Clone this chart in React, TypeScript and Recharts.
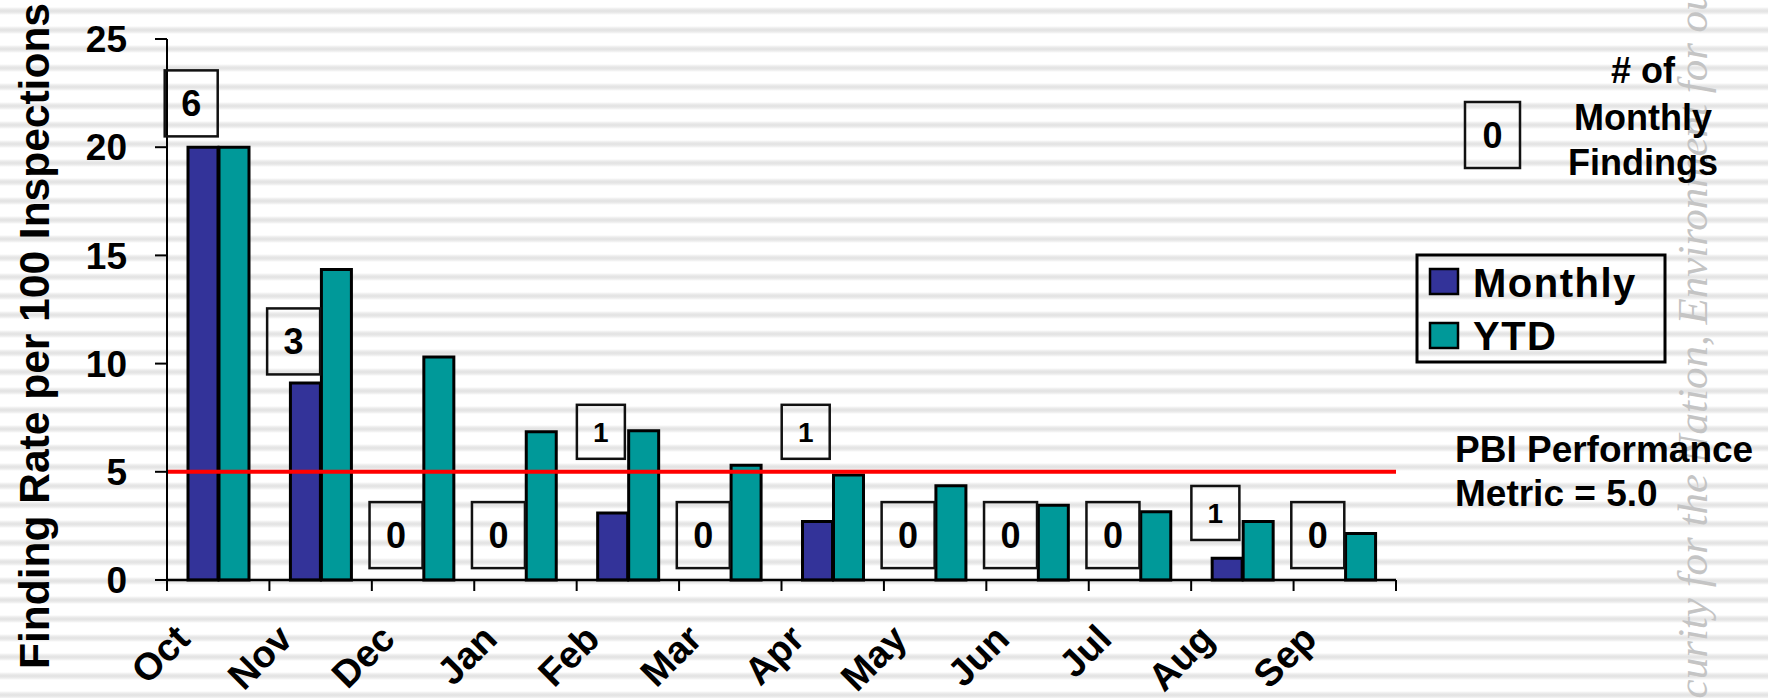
import React from 'react';
import { ComposedChart, Bar, Line, XAxis, YAxis, ReferenceLine } from 'recharts';

const months = ['Oct', 'Nov', 'Dec', 'Jan', 'Feb', 'Mar', 'Apr', 'May', 'Jun', 'Jul', 'Aug', 'Sep'];
const monthlyRate = [20, 9.1, 0, 0, 3.1, 0, 2.7, 0, 0, 0, 1.0, 0];
const ytdRate = [20, 14.35, 10.3, 6.85, 6.9, 5.3, 4.85, 4.35, 3.45, 3.15, 2.7, 2.15];
const monthlyFindings = [6, 3, 0, 0, 1, 0, 1, 0, 0, 0, 1, 0];
// lower edge of each findings box, in chart units (hand placed in the original)
const findingsBoxBase = [20.5, 9.5, 0.55, 0.55, 5.6, 0.55, 5.6, 0.55, 0.55, 0.55, 1.85, 0.55];
const yTicks = [0, 5, 10, 15, 20, 25];
const metricValue = 5;

const W = 1768;
const H = 698;
const PLOT_LEFT = 167;
const PLOT_RIGHT = 1396;
const PLOT_TOP = 39;
const PLOT_BOTTOM = 580;
const Y_AXIS_W = 60;
const X_AXIS_H = 60;
const BAND = (PLOT_RIGHT - PLOT_LEFT) / months.length;

const FONT = 'Arial, "Liberation Sans", Helvetica, sans-serif';
const MONTHLY_COLOR = '#333399';
const YTD_COLOR = '#009999';

const data = months.map((m, i) => ({
  month: m,
  monthly: monthlyRate[i],
  ytd: ytdRate[i],
  findings: monthlyFindings[i],
  boxBase: findingsBoxBase[i],
}));

// month labels sit on the category boundaries, like the original sheet
function MonthTick(props: any) {
  const { x, y, payload, index } = props;
  const left = x - BAND / 2;
  const tx = left + 25;
  const ty = y + 61;
  return (
    <g>
      <line x1={left} y1={y} x2={left} y2={y + 11} stroke="#000" strokeWidth={2} />
      {index === months.length - 1 && (
        <line x1={x + BAND / 2} y1={y} x2={x + BAND / 2} y2={y + 11} stroke="#000" strokeWidth={2} />
      )}
      <text
        x={tx}
        y={ty}
        transform={`rotate(-45 ${tx} ${ty})`}
        textAnchor="end"
        fontSize={38}
        fontWeight="bold"
        fontFamily={FONT}
        fill="#000"
      >
        {payload.value}
      </text>
    </g>
  );
}

function FindingsBox(props: any) {
  const { cx, cy, index } = props;
  if (cx == null || cy == null) return <g key={`box-${index}`} />;
  const n = monthlyFindings[index];
  const small = n === 1;
  const w = small ? 48 : 53;
  const h = small ? 54 : 66;
  const mid = cx - 27;
  return (
    <g key={`box-${index}`}>
      <rect x={mid - w / 2} y={cy - h} width={w} height={h} fill="none" stroke="#111" strokeWidth={2.5} />
      <text
        x={mid}
        y={cy - h / 2}
        dy="0.36em"
        textAnchor="middle"
        fontSize={small ? 28 : 36}
        fontWeight="bold"
        fontFamily={FONT}
        fill="#000"
      >
        {n}
      </text>
    </g>
  );
}

export default function App() {
  return (
    <div
      style={{
        position: 'absolute',
        left: 0,
        top: 0,
        width: W,
        height: H,
        overflow: 'hidden',
        fontFamily: FONT,
        background:
          'repeating-linear-gradient(to bottom, #ffffff 0px, #ffffff 7px, #ececec 9px, #e2e2e2 11px, #ececec 13px, #ffffff 15px, #ffffff 19px)',
      }}
    >
      <svg width={W} height={H} style={{ position: 'absolute', left: 0, top: 0 }}>
        <text
          transform="translate(1707 739) rotate(-90)"
          fontSize={43}
          fontStyle="italic"
          fontFamily='"Liberation Serif", "DejaVu Serif", serif'
          fill="#c4c4c4"
        >
          Security for the Nation, Environment for our Future
        </text>
      </svg>

      <div style={{ position: 'absolute', left: 0, top: 0 }}>
        <ComposedChart
          width={W}
          height={H}
          data={data}
          margin={{
            top: PLOT_TOP,
            right: W - PLOT_RIGHT,
            bottom: H - PLOT_BOTTOM - X_AXIS_H,
            left: PLOT_LEFT - Y_AXIS_W,
          }}
          barCategoryGap={21}
          barGap={1}
        >
          <XAxis
            dataKey="month"
            interval={0}
            height={X_AXIS_H}
            tickSize={0}
            tickMargin={0}
            tickLine={false}
            axisLine={{ stroke: '#000', strokeWidth: 2.5 }}
            tick={<MonthTick />}
          />
          <YAxis
            type="number"
            domain={[0, 25]}
            ticks={yTicks}
            interval={0}
            width={Y_AXIS_W}
            tickSize={12}
            tickMargin={28}
            axisLine={{ stroke: '#000', strokeWidth: 2 }}
            tickLine={{ stroke: '#000', strokeWidth: 2 }}
            tick={{ fontSize: 37, fontWeight: 'bold', fill: '#000', fontFamily: FONT }}
          />
          <Bar dataKey="monthly" fill={MONTHLY_COLOR} stroke="#000" strokeWidth={3} isAnimationActive={false} />
          <Bar dataKey="ytd" fill={YTD_COLOR} stroke="#000" strokeWidth={3} isAnimationActive={false} />
          <ReferenceLine y={metricValue} stroke="#ff0000" strokeWidth={4} />
          <Line
            dataKey="boxBase"
            stroke="none"
            dot={FindingsBox}
            activeDot={false}
            legendType="none"
            isAnimationActive={false}
          />
        </ComposedChart>
      </div>

      <svg width={W} height={H} style={{ position: 'absolute', left: 0, top: 0, pointerEvents: 'none' }}>
        <text
          transform="translate(49 336) rotate(-90)"
          textAnchor="middle"
          fontSize={42.5}
          fontWeight="bold"
          fontFamily={FONT}
          fill="#000"
        >
          Finding Rate per 100 Inspections
        </text>

        <rect x={1465} y={102} width={55} height={66} fill="none" stroke="#111" strokeWidth={2.5} />
        <text x={1492.5} y={148} textAnchor="middle" fontSize={36} fontWeight="bold" fontFamily={FONT}>0</text>
        <g fontSize={36} fontWeight="bold" fontFamily={FONT} textAnchor="middle" fill="#000">
          <text x={1643} y={83}># of</text>
          <text x={1643} y={130}>Monthly</text>
          <text x={1643} y={175}>Findings</text>
        </g>

        <rect x={1417} y={255} width={248} height={107} fill="none" stroke="#000" strokeWidth={3} />
        <rect x={1430} y={269} width={28} height={25} fill={MONTHLY_COLOR} stroke="#000" strokeWidth={2.5} />
        <rect x={1430} y={323} width={28} height={25} fill={YTD_COLOR} stroke="#000" strokeWidth={2.5} />
        <g fontSize={40} fontWeight="bold" fontFamily={FONT} fill="#000" letterSpacing={1.5}>
          <text x={1473} y={297}>Monthly</text>
          <text x={1473} y={350}>YTD</text>
        </g>

        <g fontSize={37} fontWeight="bold" fontFamily={FONT} fill="#000">
          <text x={1455} y={462}>PBI Performance</text>
          <text x={1455} y={506}>Metric = 5.0</text>
        </g>
      </svg>
    </div>
  );
}
